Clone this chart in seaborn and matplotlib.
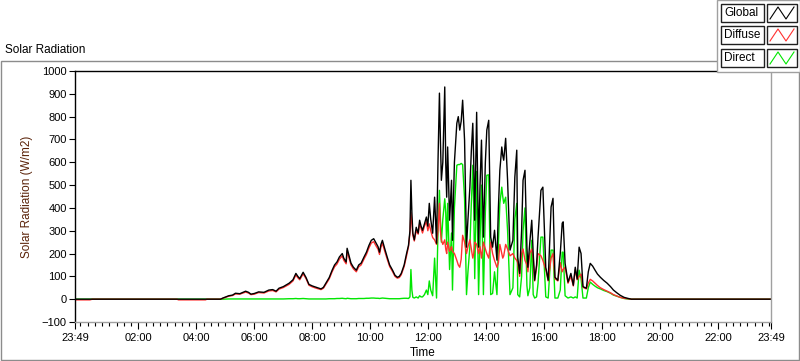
import pandas as pd
import numpy as np
import matplotlib
matplotlib.use("Agg")
import matplotlib.pyplot as plt
import matplotlib.dates as mdates
from matplotlib.lines import Line2D
from matplotlib.patches import Rectangle
import seaborn as sns

# leituras (hora, W/m2) - dia de 23:49 a 23:49
horas_noite_ini = ["23:49", "00:20", "00:25", "03:20", "03:23", "04:19", "04:22", "04:45"]
global_noite_ini = [0, 0, 0, 0, 0, 0, 0, 0]
difusa_noite_ini = [-3, -3, 0, 0, -3, -3, 0, 0]
direta_noite_ini = [0, 0, 0, 0, 0, 0, 0, 0]

horas_manha = ["04:50", "04:55", "05:07", "05:15", "05:21", "05:30", "05:42", "05:48",
               "05:53", "06:00", "06:09", "06:20", "06:30", "06:38", "06:45", "06:51",
               "07:00", "07:12", "07:20", "07:26", "07:30", "07:34", "07:41", "07:47",
               "07:53", "08:00", "08:08", "08:18", "08:23", "08:28", "08:35", "08:41",
               "08:46", "08:51", "08:56", "09:02", "09:05", "09:10", "09:12", "09:16",
               "09:20", "09:25", "09:31", "09:36", "09:41", "09:47", "09:52", "09:57",
               "10:02", "10:07", "10:12", "10:16", "10:19", "10:22", "10:25", "10:30",
               "10:35", "10:40", "10:46", "10:51", "10:56", "11:00", "11:04", "11:10",
               "11:15"]
global_manha = [0, 5, 15, 18, 26, 24, 35, 30, 22, 25, 32, 30, 40, 42, 35, 48,
                55, 70, 85, 113, 100, 90, 118, 95, 65, 58, 52, 45, 52, 70, 95, 127,
                150, 163, 185, 200, 180, 163, 223, 190, 158, 140, 127, 150, 158, 185, 206, 235,
                258, 265, 245, 230, 206, 240, 258, 220, 184, 150, 127, 105, 96, 100, 113, 150,
                200]
difusa_manha = [0, 4, 13, 16, 23, 22, 31, 27, 20, 22, 29, 27, 36, 38, 32, 44,
                51, 65, 80, 106, 94, 85, 111, 90, 61, 54, 48, 42, 48, 65, 89, 120,
                142, 154, 175, 190, 171, 155, 212, 180, 150, 133, 120, 142, 150, 176, 196, 224,
                246, 252, 233, 219, 196, 228, 245, 209, 175, 143, 121, 100, 92, 95, 107, 143,
                190]
direta_manha = [0, 0, 1, 1, 1, 1, 1, 1, 1, 1, 1, 1, 1, 1, 1, 1,
                1, 2, 2, 3, 2, 2, 3, 2, 1, 1, 1, 1, 1, 1, 2, 2,
                2, 3, 3, 4, 3, 2, 4, 3, 2, 2, 2, 3, 3, 3, 4, 4,
                5, 5, 4, 4, 3, 4, 5, 4, 3, 2, 2, 2, 2, 2, 3, 4,
                4]

horas_tarde = ["11:19", "11:22", "11:24", "11:26", "11:28", "11:31", "11:35", "11:39",
               "11:42", "11:45", "11:48", "11:52", "11:56", "11:59", "12:02", "12:05",
               "12:09", "12:13", "12:17", "12:20", "12:23", "12:25", "12:27", "12:30",
               "12:34", "12:36", "12:38", "12:40", "12:42", "12:44", "12:48", "12:50",
               "12:54", "12:59", "13:02", "13:05", "13:08", "13:11", "13:15", "13:19",
               "13:22", "13:26", "13:29", "13:32", "13:34", "13:36", "13:40", "13:44",
               "13:47", "13:50", "13:54", "13:58", "14:01", "14:05", "14:09", "14:13",
               "14:17", "14:22", "14:25", "14:28", "14:32", "14:34", "14:36", "14:40",
               "14:44", "14:49", "14:55", "14:59", "15:03", "15:05", "15:09", "15:13",
               "15:16", "15:20", "15:24", "15:26", "15:30", "15:34", "15:37", "15:40",
               "15:44", "15:47", "15:53", "15:57", "16:03", "16:08", "16:14", "16:18",
               "16:22", "16:28", "16:33", "16:37", "16:39", "16:43", "16:49", "16:55",
               "17:00", "17:04", "17:08", "17:12", "17:16", "17:20", "17:27", "17:31",
               "17:35", "17:40", "17:45", "17:50", "17:56", "18:03", "18:10", "18:17",
               "18:23", "18:30", "18:37", "18:45", "18:52", "19:00"]
global_tarde = [236, 300, 521, 380, 289, 260, 315, 290,
                346, 320, 302, 330, 360, 320, 420, 350,
                289, 447, 245, 600, 903, 700, 521, 600,
                930, 600, 447, 667, 500, 346, 521, 258,
                600, 771, 800, 741, 780, 872, 697, 228,
                350, 491, 650, 771, 600, 346, 819, 228,
                500, 697, 272, 600, 741, 784, 272, 228,
                302, 171, 400, 565, 667, 630, 609, 705,
                521, 215, 258, 535, 653, 184, 113, 300,
                521, 565, 228, 140, 250, 346, 200, 83,
                150, 272, 477, 491, 140, 83, 404, 442,
                96, 83, 200, 333, 339, 157, 75, 113,
                61, 140, 88, 228, 200, 55, 48, 120,
                157, 145, 127, 110, 96, 82, 70, 55,
                40, 28, 17, 8, 4, 0]
difusa_tarde = [230, 290, 380, 330, 280, 255, 300, 285,
                330, 310, 290, 320, 340, 300, 330, 300,
                270, 260, 240, 300, 420, 300, 260, 240,
                260, 220, 200, 250, 230, 210, 230, 210,
                200, 170, 150, 140, 175, 280, 250, 200,
                230, 260, 220, 180, 200, 250, 240, 200,
                230, 180, 250, 220, 200, 180, 250, 200,
                170, 140, 160, 240, 200, 180, 190, 240,
                220, 190, 200, 180, 170, 160, 100, 200,
                220, 170, 150, 120, 200, 220, 180, 80,
                140, 200, 190, 170, 130, 80, 180, 200,
                90, 80, 160, 120, 130, 140, 70, 100,
                58, 130, 85, 100, 110, 52, 45, 70,
                87, 80, 70, 60, 50, 42, 35, 28,
                20, 14, 8, 4, 2, 0]
direta_tarde = [3, 10, 130, 40, 8, 5, 10, 5,
                15, 10, 10, 20, 40, 20, 80, 40,
                15, 180, 5, 300, 477, 350, 250, 350,
                440, 380, 240, 420, 270, 130, 290, 40,
                400, 587, 590, 590, 595, 590, 440, 20,
                120, 230, 420, 587, 400, 90, 560, 20,
                260, 500, 20, 380, 543, 545, 20, 25,
                120, 20, 240, 420, 491, 450, 420, 447,
                300, 20, 50, 350, 420, 20, 10, 100,
                300, 400, 60, 15, 50, 258, 20, 5,
                10, 70, 272, 272, 10, 5, 215, 215,
                5, 5, 40, 206, 206, 15, 5, 10,
                5, 10, 5, 127, 90, 5, 5, 50,
                75, 65, 57, 50, 45, 38, 33, 26,
                18, 13, 8, 3, 1, 0]

horas_noite_fim = ["19:05", "23:49"]
global_noite_fim = [0, 0]
difusa_noite_fim = [0, 0]
direta_noite_fim = [0, 0]

# montar tabela (primeiro ponto e' no dia anterior)
horas = horas_noite_ini + horas_manha + horas_tarde + horas_noite_fim
inicio = pd.Timestamp("2013-06-01 23:49")
tempo = [inicio] + [pd.Timestamp(f"2013-06-02 {h}") for h in horas[1:]]
df = pd.DataFrame({
    "Time": tempo,
    "Global": global_noite_ini + global_manha + global_tarde + global_noite_fim,
    "Diffuse": difusa_noite_ini + difusa_manha + difusa_tarde + difusa_noite_fim,
    "Direct": direta_noite_ini + direta_manha + direta_tarde + direta_noite_fim,
})
fim = inicio + pd.Timedelta(hours=24)

cores = {"Global": "#000000", "Diffuse": "#ff3030", "Direct": "#00e600"}

plt.rcParams["font.family"] = ["Liberation Sans", "DejaVu Sans"]
fig = plt.figure(figsize=(8, 3.61), dpi=100)
fig.patch.set_facecolor("white")
ax = fig.add_axes([75 / 800, 39 / 361, 696 / 800, 251 / 361])

# ordem: Direct por baixo, Global por cima
for serie in ["Direct", "Diffuse", "Global"]:
    sns.lineplot(data=df, x="Time", y=serie, color=cores[serie], lw=1.0,
                 ax=ax, estimator=None, sort=False)

ax.set_xlim(inicio, fim)
ax.set_ylim(-100, 1000)
ax.set_yticks(range(-100, 1001, 100))

maiores = [inicio] + [pd.Timestamp(f"2013-06-02 {h:02d}:00") for h in range(2, 23, 2)] + [fim]
ax.set_xticks(maiores)
ax.xaxis.set_major_formatter(mdates.DateFormatter("%H:%M"))
ax.xaxis.set_minor_locator(mdates.MinuteLocator(byminute=[0, 15, 30, 45]))

ax.tick_params(axis="x", which="major", length=5, width=0.8, pad=3, labelsize=8)
ax.tick_params(axis="x", which="minor", length=3, width=0.8)
ax.tick_params(axis="y", which="major", length=4, width=0.8, pad=2, labelsize=8)

ax.set_xlabel("Time", fontsize=8.5, labelpad=3)
ax.set_ylabel("Solar Radiation (W/m2)", fontsize=8.5, color="#5a2208", labelpad=6)

for lado in ["left", "top"]:
    ax.spines[lado].set_color("black")
    ax.spines[lado].set_linewidth(1)
for lado in ["right", "bottom"]:
    ax.spines[lado].set_color("#a0a0a0")
    ax.spines[lado].set_linewidth(1)
ax.grid(False)

# moldura externa e titulo
fig.patches.append(Rectangle((0.5 / 800, 1 / 361), 798.5 / 800, 299 / 361, transform=fig.transFigure,
                             fill=False, edgecolor="#8c8c8c", lw=1))
fig.text(5 / 800, 1 - 50 / 361, "Solar Radiation", fontsize=8.5, va="center", ha="left")

# legenda
fig.patches.append(Rectangle((717 / 800, 1 - 72 / 361), 83 / 800, 72 / 361, transform=fig.transFigure,
                             facecolor="white", edgecolor="#a0a0a0", lw=1))
linhas_y = [13, 35, 58]
for nome, yc in zip(["Global", "Diffuse", "Direct"], linhas_y):
    fig.patches.append(Rectangle((721 / 800, 1 - (yc + 9) / 361), 43 / 800, 18 / 361,
                                 transform=fig.transFigure, facecolor="white",
                                 edgecolor="#202020", lw=1))
    fig.patches.append(Rectangle((767 / 800, 1 - (yc + 9) / 361), 30 / 800, 18 / 361,
                                 transform=fig.transFigure, facecolor="white",
                                 edgecolor="#202020", lw=1))
    fig.text(724 / 800, 1 - yc / 361, nome, fontsize=8.5, va="center", ha="left")
    zx = np.array([770, 778, 786, 794]) / 800
    zy = 1 - (yc + np.array([6, -6, 6, -6])) / 361
    fig.lines.append(Line2D(zx, zy, transform=fig.transFigure, color=cores[nome], lw=0.8))

plt.savefig("out.png", dpi=100)
